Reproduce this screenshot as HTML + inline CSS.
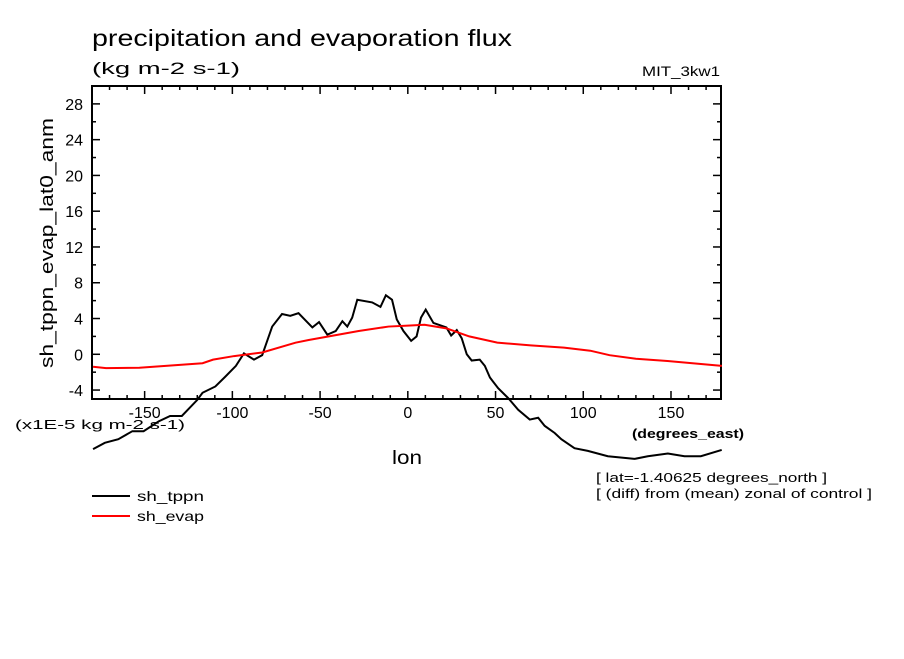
<!DOCTYPE html>
<html><head><meta charset="utf-8"><style>
body{margin:0;background:#fff;width:904px;height:654px;overflow:hidden}
svg{font-family:"Liberation Sans",sans-serif}
</style></head><body>
<svg id="c" width="904" height="654">
<text x="92" y="46" font-size="23" textLength="420" lengthAdjust="spacingAndGlyphs">precipitation and evaporation flux</text>
<text x="92" y="74" font-size="17" textLength="148" lengthAdjust="spacingAndGlyphs">(kg m-2 s-1)</text>
<text x="642" y="76" font-size="14" textLength="78" lengthAdjust="spacingAndGlyphs">MIT_3kw1</text>
<rect x="92" y="86" width="629" height="313" fill="none" stroke="#000" stroke-width="2"/>
<g id="ticks"></g>
<text transform="translate(53,368) rotate(-90)" font-size="18" textLength="250" lengthAdjust="spacingAndGlyphs">sh_tppn_evap_lat0_anm</text>
<text x="15" y="429" font-size="13" textLength="170" lengthAdjust="spacingAndGlyphs">(x1E-5 kg m-2 s-1)</text>
<text x="632" y="438" font-size="13" font-weight="bold" textLength="112" lengthAdjust="spacingAndGlyphs">(degrees_east)</text>
<text x="392" y="464" font-size="19" textLength="30" lengthAdjust="spacingAndGlyphs">lon</text>
<g id="series"></g>
<line x1="92" y1="496" x2="130" y2="496" stroke="#000" stroke-width="2"/>
<text x="137" y="501" font-size="14" textLength="67" lengthAdjust="spacingAndGlyphs">sh_tppn</text>
<line x1="92" y1="516" x2="130" y2="516" stroke="#f00" stroke-width="2"/>
<text x="137" y="521" font-size="14" textLength="67" lengthAdjust="spacingAndGlyphs">sh_evap</text>
<text x="596" y="482" font-size="12.5" textLength="231" lengthAdjust="spacingAndGlyphs">[ lat=-1.40625 degrees_north ]</text>
<text x="596" y="498" font-size="12.5" textLength="276" lengthAdjust="spacingAndGlyphs">[ (diff) from (mean) zonal of control ]</text>
</svg>
<script>
const xTicks=[-150,-100,-50,0,50,100,150];
const yTicks=[-4,0,4,8,12,16,20,24,28];
const tppnLon=[-179.4,-172.7,-165,-157,-150.6,-142,-135.5,-128.8,-120,-117,-109.7,-104,-98,-93.4,-87.7,-83,-77.3,-71.7,-67,-62.3,-54.4,-50.6,-45.9,-41.1,-37.3,-34.5,-31.7,-28.8,-20.3,-15.6,-12.5,-9,-6.3,-2.5,1.9,5,7.5,10.2,14.6,22,24.7,27.9,30.7,33.6,36.4,41,43.9,46.8,51.5,57.2,62.9,69.5,74.3,78,83.7,87.5,95,102.6,114,129.2,136.8,148.2,157.7,167,178.9];
const tppnVal=[-10.6,-9.9,-9.5,-8.6,-8.6,-7.5,-6.9,-6.9,-5.1,-4.3,-3.6,-2.5,-1.3,0.1,-0.6,-0.1,3.1,4.5,4.3,4.6,3.0,3.6,2.2,2.6,3.7,3.1,4.1,6.1,5.8,5.3,6.6,6.1,3.9,2.6,1.5,2.0,4.1,5.0,3.5,3.0,2.1,2.7,1.8,0,-0.7,-0.6,-1.3,-2.6,-3.8,-4.9,-6.2,-7.3,-7.1,-8.0,-8.8,-9.5,-10.5,-10.8,-11.4,-11.7,-11.4,-11.1,-11.4,-11.4,-10.7];
const evapLon=[-179.4,-172,-153,-117,-111,-99,-83,-64,-56.5,-45,-28,-11,0,9.5,22,35,51,70,89,104,115,130,148,179];
const evapVal=[-1.4,-1.55,-1.5,-1.0,-0.6,-0.2,0.2,1.3,1.6,2.0,2.6,3.1,3.2,3.3,2.9,2.0,1.3,1.0,0.75,0.4,-0.1,-0.5,-0.75,-1.3];
const NS='http://www.w3.org/2000/svg';
const L=92,R=721,T=86,B=399,xMin=-180,xMax=178.5,yMin=-5,yMax=30;
const sx=v=>L+(v-xMin)/(xMax-xMin)*(R-L);
const sy=v=>B-(v-yMin)/(yMax-yMin)*(B-T);
const tg=document.getElementById('ticks');
function ln(x1,y1,x2,y2){const e=document.createElementNS(NS,'line');e.setAttribute('x1',x1);e.setAttribute('y1',y1);e.setAttribute('x2',x2);e.setAttribute('y2',y2);e.setAttribute('stroke','#000');e.setAttribute('stroke-width','1.5');return e;}
for(let v=-170;v<=170;v+=10){const x=sx(v);const big=v%50===0;const len=big?8:4;
const a=ln(x,B,x,B-len);


tg.appendChild(a);
const b=ln(x,T,x,T+len);


tg.appendChild(b);}
for(let v=-4;v<=30;v+=2){const y=sy(v);const big=v%4===0;const len=big?8:4;
const a=ln(L,y,L+len,y);


tg.appendChild(a);
const b=ln(R,y,R-len,y);


tg.appendChild(b);}
xTicks.forEach(v=>{const t=document.createElementNS(NS,'text');t.setAttribute('x',sx(v));t.setAttribute('y',418);t.setAttribute('font-size','16');t.setAttribute('text-anchor','middle');t.textContent=v;


tg.appendChild(t);});
yTicks.forEach(v=>{const t=document.createElementNS(NS,'text');t.setAttribute('x',83);t.setAttribute('y',sy(v)+6);t.setAttribute('font-size','16');t.setAttribute('text-anchor','end');t.textContent=v;


tg.appendChild(t);});
const sg=document.getElementById('series');
function line(lons,vals,col,name){const p=document.createElementNS(NS,'polyline');p.setAttribute('points',lons.map((l,i)=>sx(l)+','+sy(vals[i])).join(' '));p.setAttribute('fill','none');p.setAttribute('stroke',col);p.setAttribute('stroke-width','2');


sg.appendChild(p);}
line(tppnLon,tppnVal,'#000','series-sh-tppn');
line(evapLon,evapVal,'#f00','series-sh-evap');
</script>
</body></html>
